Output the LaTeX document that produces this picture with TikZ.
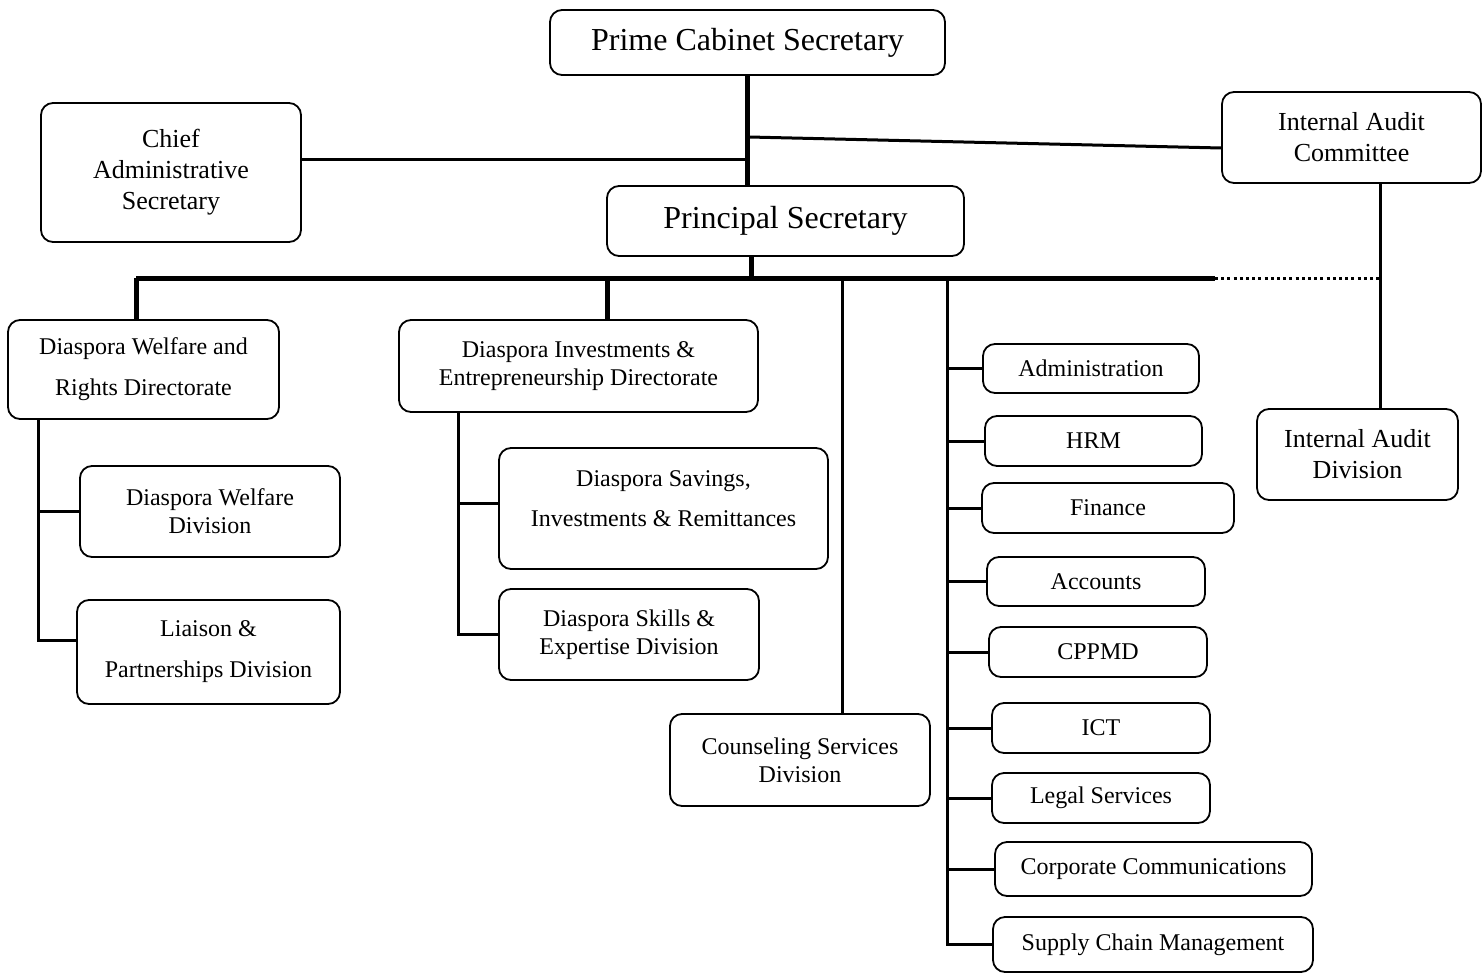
\documentclass[tikz,border=0pt]{standalone}
\usepackage{fontspec}
\setmainfont{Liberation Serif}
\usepackage{tikz}
\usetikzlibrary{positioning, calc}
\tikzstyle{unit} = [rectangle, rounded corners=6pt, draw=black, line width=0.9pt, align=center, inner sep=0pt, font=\fontsize{12}{14}\selectfont]
\tikzstyle{head} = [unit, font=\fontsize{16}{19}\selectfont]
\tikzstyle{office} = [unit, font=\fontsize{13}{15.5}\selectfont]
\tikzstyle{bus} = [line width=2.5pt]
\tikzstyle{link} = [line width=1.5pt]

\begin{document}
\begin{tikzpicture}[x=0.5pt, y=-0.5pt]
\useasboundingbox (0,0) rectangle (1482,974);

% top offices
\node [head, minimum width=197.5pt, minimum height=32.5pt] (pcs) at (747.5,42.5) {Prime Cabinet Secretary};
\node [office, minimum width=130pt, minimum height=69.5pt] (cas) at (171,172.5) {Chief\\Administrative\\Secretary};
\node [office, minimum width=129.5pt, minimum height=45.5pt] (iac) at (1351.5,137.5) {Internal Audit\\Committee};
\node [head, minimum width=178.5pt, minimum height=35pt] (ps) at (785.5,221) {Principal Secretary};
\node [office, minimum width=100.5pt, minimum height=45.5pt] (iad) at (1357.5,454.5) {Internal Audit\\Division};

% directorates and divisions
\node [unit, minimum width=135.5pt, minimum height=49.5pt] (dwrd) at (143.5,369.5) {Diaspora Welfare and\\[6.5pt]Rights Directorate};
\node [unit, minimum width=130pt, minimum height=45.5pt] (dwd) at (210,511.5) {Diaspora Welfare\\Division};
\node [unit, minimum width=131.5pt, minimum height=52pt] (lpd) at (208.5,652) {Liaison \&\\[6.5pt]Partnerships Division};
\node [unit, minimum width=179.5pt, minimum height=46pt] (died) at (578.5,366) {Diaspora Investments \&\\Entrepreneurship Directorate};
\node [unit, minimum width=164.5pt, minimum height=60.5pt] (dsir) at (663.5,508.5) {Diaspora Savings,\\[6pt]Investments \& Remittances\\[-4pt]};
\node [unit, minimum width=130pt, minimum height=45.5pt] (dsed) at (629,634.5) {Diaspora Skills \&\\Expertise Division};
\node [unit, minimum width=130pt, minimum height=46pt] (csd) at (800,760) {Counseling Services\\Division};

% support units
\node [unit, minimum width=108pt, minimum height=24.5pt] (adm) at (1091,368.5) {Administration};
\node [unit, minimum width=108.5pt, minimum height=25pt] (hrm) at (1093.5,441) {HRM};
\node [unit, minimum width=126pt, minimum height=25pt] (fin) at (1108,508) {Finance};
\node [unit, minimum width=109pt, minimum height=24.5pt] (acc) at (1096,581.5) {Accounts};
\node [unit, minimum width=109pt, minimum height=25pt] (cpp) at (1098,652) {CPPMD};
\node [unit, minimum width=109pt, minimum height=25pt] (ict) at (1101,728) {ICT};
\node [unit, minimum width=109pt, minimum height=25pt] (leg) at (1101,798) {Legal Services};
\node [unit, minimum width=158.5pt, minimum height=27pt] (cc) at (1153.5,869) {Corporate Communications};
\node [unit, minimum width=160pt, minimum height=27.5pt] (scm) at (1153,944.5) {Supply Chain Management};

% junctions
\coordinate (casj) at (749,159);
\coordinate (iacj) at (749,137);
\coordinate (psj) at (751,278);
\coordinate (busL) at (136,278);
\coordinate (busR) at (1215,278);
\coordinate (iadj) at (1380,278);
\coordinate (diedj) at (607,278);
\coordinate (csdj) at (842,278);
\coordinate (spine) at (947,278);
\coordinate (lt) at (38,419);
\coordinate (mt) at (458,412);

% connectors
\draw [bus] (pcs.south) -- (pcs.south |- ps.north);
\draw [link] (casj) -- (casj -| cas.east);
\draw [link] (iacj) -- ([yshift=-5.25pt]iac.west);
\draw [bus] (psj |- ps.south) -- (psj);
\draw [bus] (busL) -- (busR);
\draw [line width=1.5pt, dash pattern=on 1.5pt off 1.6pt] (busR) -- (iadj);
\draw [link] (iac.south -| iadj) -- (iadj |- iad.north);
\draw [bus] (busL) -- (busL |- dwrd.north);
\draw [bus] (diedj) -- (diedj |- died.north);
\draw [link] (csdj) -- (csdj |- csd.north);

\draw [link] (dwrd.south -| lt) -- ([yshift=6pt]lpd.west -| lt) -- ([yshift=6pt]lpd.west);
\draw [link] (dwd.west -| lt) -- (dwd.west);
\draw [link] (died.south -| mt) -- (dsed.west -| mt) -- (dsed.west);
\draw [link] ([yshift=2.75pt]dsir.west -| mt) -- ([yshift=2.75pt]dsir.west);

\draw [link] (spine) -- (spine |- scm.west) -- (scm.west);
\foreach \u in {adm, hrm, fin, acc, cpp, ict, leg, cc}
  \draw [link] (\u.west -| spine) -- (\u.west);
\end{tikzpicture}
\end{document}
